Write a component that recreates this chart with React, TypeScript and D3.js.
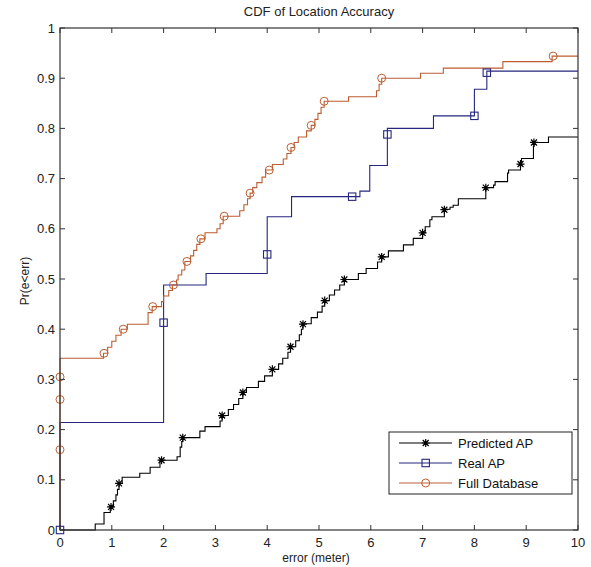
import * as d3 from 'd3';

// step CDFs: [x where the step happens, level after it]
const predictedSteps: [number, number][] = [
  [0, 0], [0.68, 0.012], [0.85, 0.035], [0.97, 0.046], [1.03, 0.058], [1.08, 0.07],
  [1.11, 0.081], [1.14, 0.093], [1.2, 0.105], [1.54, 0.113], [1.74, 0.125], [1.93, 0.139],
  [2.26, 0.146], [2.32, 0.165], [2.35, 0.176], [2.37, 0.184], [2.7, 0.197], [2.8, 0.206],
  [3.09, 0.217], [3.13, 0.228], [3.25, 0.24], [3.35, 0.25], [3.45, 0.262], [3.53, 0.274],
  [3.6, 0.284], [3.83, 0.296], [3.95, 0.307], [4.1, 0.32], [4.22, 0.331], [4.3, 0.342],
  [4.4, 0.354], [4.45, 0.365], [4.55, 0.377], [4.62, 0.389], [4.66, 0.4], [4.69, 0.411],
  [4.85, 0.423], [4.97, 0.434], [5.06, 0.446], [5.11, 0.457], [5.2, 0.468], [5.3, 0.478],
  [5.4, 0.488], [5.49, 0.499], [5.76, 0.511], [5.91, 0.521], [6.13, 0.534], [6.21, 0.544],
  [6.34, 0.556], [6.63, 0.568], [6.82, 0.581], [7.0, 0.592], [7.05, 0.604], [7.14, 0.618],
  [7.18, 0.624], [7.42, 0.639], [7.53, 0.643], [7.59, 0.647], [7.69, 0.66], [8.22, 0.682],
  [8.37, 0.687], [8.4, 0.694], [8.64, 0.711], [8.66, 0.717], [8.89, 0.729], [8.91, 0.74],
  [9.14, 0.764], [9.15, 0.772], [9.43, 0.783],
];
const predictedMarks: [number, number][] = [
  [0.985, 0.046], [1.14, 0.093], [1.96, 0.139], [2.37, 0.184], [3.13, 0.228], [3.53, 0.274],
  [4.1, 0.32], [4.45, 0.365], [4.69, 0.41], [5.11, 0.457], [5.49, 0.499], [6.21, 0.544],
  [7.0, 0.592], [7.42, 0.638], [8.22, 0.682], [8.89, 0.729], [9.15, 0.772],
];

const realSteps: [number, number][] = [
  [0, 0], [0, 0.214], [2.0, 0.488], [2.82, 0.511], [4.0, 0.624], [4.47, 0.664],
  [5.79, 0.675], [5.98, 0.726], [6.32, 0.8], [7.21, 0.825], [8.0, 0.878], [8.24, 0.914],
];
const realMarks: [number, number][] = [
  [0, 0], [2.0, 0.413], [4.0, 0.549], [5.64, 0.664], [6.32, 0.788], [8.0, 0.825], [8.24, 0.911],
];

const fullSteps: [number, number][] = [
  [0, 0], [0, 0.342], [0.84, 0.352], [0.92, 0.364], [1.0, 0.376], [1.08, 0.388], [1.18, 0.4],
  [1.3, 0.41], [1.7, 0.433], [1.78, 0.445], [1.96, 0.455], [2.0, 0.466], [2.1, 0.477],
  [2.17, 0.488], [2.25, 0.498], [2.28, 0.508], [2.35, 0.518], [2.41, 0.535], [2.52, 0.546],
  [2.58, 0.557], [2.64, 0.569], [2.7, 0.58], [2.8, 0.592], [3.03, 0.6], [3.09, 0.61],
  [3.15, 0.625], [3.47, 0.636], [3.55, 0.648], [3.62, 0.66], [3.67, 0.671], [3.72, 0.682],
  [3.8, 0.692], [3.9, 0.703], [3.97, 0.717], [4.1, 0.728], [4.31, 0.739], [4.38, 0.75],
  [4.46, 0.762], [4.52, 0.772], [4.6, 0.783], [4.76, 0.795], [4.85, 0.806], [4.92, 0.818],
  [4.98, 0.83], [5.04, 0.842], [5.1, 0.854], [5.57, 0.863], [6.11, 0.875], [6.16, 0.888],
  [6.21, 0.9], [6.96, 0.91], [7.4, 0.92], [8.55, 0.933], [9.5, 0.944],
];
const fullMarks: [number, number][] = [
  [0, 0.16], [0, 0.26], [0, 0.305], [0.85, 0.352], [1.22, 0.4], [1.79, 0.445], [2.19, 0.488],
  [2.45, 0.535], [2.72, 0.58], [3.17, 0.625], [3.67, 0.671], [4.04, 0.717], [4.46, 0.762],
  [4.85, 0.806], [5.1, 0.854], [6.21, 0.9], [9.52, 0.944],
];

const xTicks = [0, 1, 2, 3, 4, 5, 6, 7, 8, 9, 10];
const yTicks = [0, 0.1, 0.2, 0.3, 0.4, 0.5, 0.6, 0.7, 0.8, 0.9, 1];
const seriesNames = ['Predicted AP', 'Real AP', 'Full Database'];

const BLACK = '#000000';
const BLUE = '#262680';
const ORANGE = '#bb5e32';

const W = 591;
const H = 567;
const left = 60, right = 578, top = 28, bottom = 530;
const font = 'Liberation Sans, Arial, sans-serif';

function Marker({ kind, x, y, color }: { kind: string; x: number; y: number; color: string }) {
  if (kind === 'star') {
    const r = 4;
    const d = `M${x - r},${y}H${x + r}M${x},${y - r}V${y + r}M${x - 3},${y - 3}L${x + 3},${y + 3}M${x - 3},${y + 3}L${x + 3},${y - 3}`;
    return <path d={d} stroke={color} strokeWidth={1.2} fill="none" />;
  }
  if (kind === 'square') {
    return <rect x={x - 3.7} y={y - 3.7} width={7.4} height={7.4} stroke={color} strokeWidth={1.1} fill="none" />;
  }
  return <circle cx={x} cy={y} r={4} stroke={color} strokeWidth={1} fill="none" />;
}

export default function App() {
  const x = d3.scaleLinear().domain([0, 10]).range([left, right]);
  const y = d3.scaleLinear().domain([0, 1]).range([bottom, top]);

  const line = d3
    .line<[number, number]>()
    .x((d) => x(d[0]))
    .y((d) => y(d[1]))
    .curve(d3.curveStepAfter);

  const series = [
    { name: seriesNames[0], steps: predictedSteps, marks: predictedMarks, color: BLACK, kind: 'star' },
    { name: seriesNames[1], steps: realSteps, marks: realMarks, color: BLUE, kind: 'square' },
    { name: seriesNames[2], steps: fullSteps, marks: fullMarks, color: ORANGE, kind: 'circle' },
  ];

  const withEnd = (s: [number, number][]) => [...s, [10, s[s.length - 1][1]] as [number, number]];

  const legX = 389, legY = 432, legW = 183, legH = 62;

  return (
    <svg width={W} height={H} style={{ position: 'absolute', left: 0, top: 0 }} fontFamily={font}>
      <rect width={W} height={H} fill="#fff" />
      <text x={(left + right) / 2} y={16} textAnchor="middle" fontSize={13} fill="#222">
        CDF of Location Accuracy
      </text>

      {series.map((s) => (
        <path key={s.name} d={line(withEnd(s.steps)) || ''} stroke={s.color} strokeWidth={1.1} fill="none" />
      ))}
      {series.map((s) =>
        s.marks.map((m, i) => <Marker key={s.name + i} kind={s.kind} x={x(m[0])} y={y(m[1])} color={s.color} />)
      )}

      {/* box + ticks */}
      <rect x={left} y={top} width={right - left} height={bottom - top} fill="none" stroke="#333" strokeWidth={1.2} />
      {xTicks.map((t) => (
        <g key={'x' + t}>
          <line x1={x(t)} x2={x(t)} y1={bottom} y2={bottom - 5} stroke="#333" />
          <line x1={x(t)} x2={x(t)} y1={top} y2={top + 5} stroke="#333" />
          <text x={x(t)} y={547} textAnchor="middle" fontSize={13} fill="#222">
            {t}
          </text>
        </g>
      ))}
      {yTicks.map((t) => (
        <g key={'y' + t}>
          <line x1={left} x2={left + 5} y1={y(t)} y2={y(t)} stroke="#333" />
          <line x1={right} x2={right - 5} y1={y(t)} y2={y(t)} stroke="#333" />
          <text x={55} y={y(t) + 4.5} textAnchor="end" fontSize={13} fill="#222">
            {t}
          </text>
        </g>
      ))}

      <text x={316} y={562} textAnchor="middle" fontSize={12} fill="#222">
        error (meter)
      </text>
      <text transform={`translate(29,281) rotate(-90)`} textAnchor="middle" fontSize={12} fill="#222">
        Pr(e&lt;err)
      </text>

      {/* legend */}
      <rect x={legX} y={legY} width={legW} height={legH} fill="#fff" stroke="#222" strokeWidth={1} />
      {series.map((s, i) => {
        const ly = 443 + i * 20;
        return (
          <g key={'leg' + s.name}>
            <line x1={399} x2={452} y1={ly} y2={ly} stroke={s.color} strokeWidth={1.1} />
            <Marker kind={s.kind} x={425.7} y={ly} color={s.color} />
            <text x={458} y={ly + 5} fontSize={13} fill="#111">
              {s.name}
            </text>
          </g>
        );
      })}
    </svg>
  );
}
